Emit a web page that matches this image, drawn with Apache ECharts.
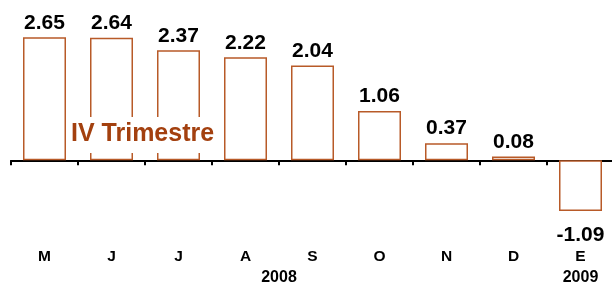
<!DOCTYPE html>
<html>
<head>
<meta charset="utf-8">
<script src="https://cdn.jsdelivr.net/npm/echarts@6/dist/echarts.min.js"></script>
<style>
  html, body { margin: 0; padding: 0; background: #fff; }
  #chart { width: 612px; height: 282px; }
</style>
</head>
<body>
<div id="chart"></div>
<script>
// datos mensuales
var months = ['M', 'J', 'J', 'A', 'S', 'O', 'N', 'D', 'E'];
var values = [2.65, 2.64, 2.37, 2.22, 2.04, 1.06, 0.37, 0.08, -1.09];
// año bajo cada mes ('' = sin etiqueta)
var years = ['', '', '', '2008', '', '', '', '', '2009'];
var yearShift = [0, 0, 0, 67, 0, 0, 0, 0, 0];

var barColor = '#B85A28';
var font = '"Liberation Sans", Arial, sans-serif';

var chart = echarts.init(document.getElementById('chart'));

var barData = values.map(function (v) {
    if (v < 0) {
        return { value: v, label: { position: 'bottom', distance: 14 } };
    }
    return v;
});

var option = {
    animation: false,
    backgroundColor: '#fff',
    grid: { left: 11, right: -2, top: 21, bottom: 52, outerBoundsMode: 'none', containLabel: false },
    xAxis: [
        {
            // eje en cero con marcas
            type: 'category',
            data: months,
            position: 'top',
            axisLine: { onZero: true, lineStyle: { color: '#000', width: 2 } },
            axisTick: { show: true, inside: true, length: 5, lineStyle: { color: '#000', width: 2 } },
            axisLabel: { show: false },
            splitLine: { show: false }
        },
        {
            // etiquetas abajo
            type: 'category',
            data: months,
            position: 'bottom',
            axisLine: { show: false, onZero: false },
            axisTick: { show: false },
            axisLabel: {
                margin: 16,
                interval: 0,
                formatter: function (val, idx) {
                    if (years[idx]) {
                        var yr = yearShift[idx] ? '{yrs|' + years[idx] + '}' : '{yr|' + years[idx] + '}';
                        return '{m|' + val + '}\n' + yr;
                    }
                    return '{m|' + val + '}';
                },
                rich: {
                    m: { fontFamily: font, fontWeight: 'bold', fontSize: 15.5, color: '#000', lineHeight: 21 },
                    yr: { fontFamily: font, fontWeight: 'bold', fontSize: 16, color: '#000', lineHeight: 21 },
                    yrs: { fontFamily: font, fontWeight: 'bold', fontSize: 16, color: '#000', lineHeight: 21, padding: [0, 0, 0, 67] }
                }
            }
        }
    ],
    yAxis: {
        type: 'value',
        min: -1.5,
        max: 3,
        show: false,
        splitLine: { show: false }
    },
    series: [
        {
            type: 'bar',
            xAxisIndex: 0,
            data: barData,
            barWidth: 43,
            itemStyle: { color: '#fff', borderColor: barColor, borderWidth: 1.5 },
            label: {
                show: true,
                position: 'top',
                distance: 4,
                fontFamily: font,
                fontWeight: 'bold',
                fontSize: 21,
                color: '#000',
                formatter: function (p) { return p.value.toFixed(2); }
            }
        }
    ],
    graphic: [
        {
            type: 'text',
            left: 66,
            top: 117,
            z: 100,
            style: {
                text: 'IV Trimestre',
                fill: '#A3400F',
                font: 'bold 25px ' + font,
                backgroundColor: '#fff',
                padding: [5, 5, 6, 5]
            }
        }
    ]
};

chart.setOption(option);
</script>
</body>
</html>
